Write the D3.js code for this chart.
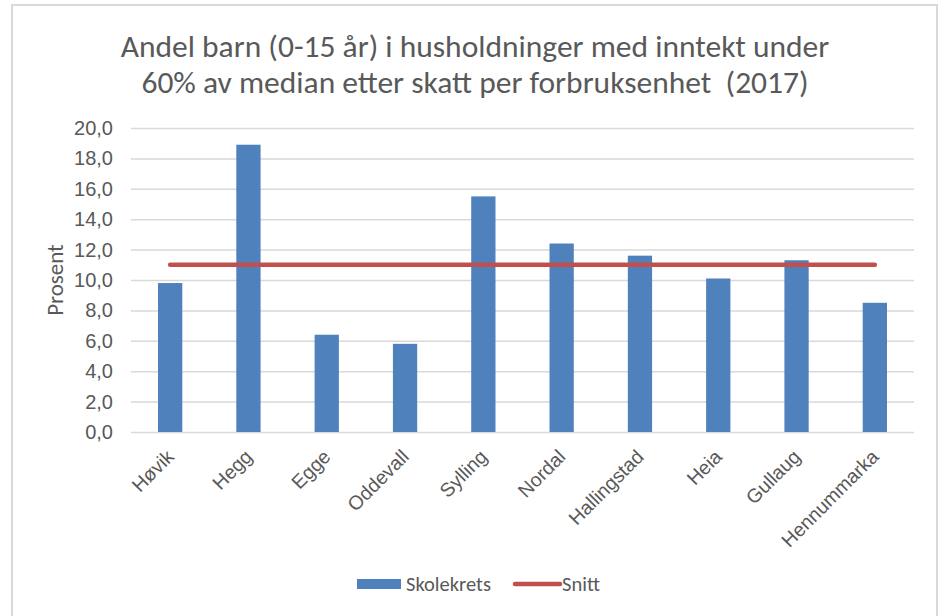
<!DOCTYPE html>
<html>
<head>
<meta charset="utf-8">
<script src="https://cdn.jsdelivr.net/npm/d3@7"></script>
<style>
  body { margin: 0; background: #fff; }
  svg { display: block; font-family: Carlito, "Open Sans", "Liberation Sans", sans-serif; }
</style>
</head>
<body>
<svg id="chart" width="938" height="616"></svg>
<script>
// data
const categories = ["Høvik", "Hegg", "Egge", "Oddevall", "Sylling", "Nordal", "Hallingstad", "Heia", "Gullaug", "Hennummarka"];
const skolekrets = [9.8, 18.9, 6.4, 5.8, 15.5, 12.4, 11.6, 10.1, 11.3, 8.5];
const snitt = [11.0, 11.0, 11.0, 11.0, 11.0, 11.0, 11.0, 11.0, 11.0, 11.0];
const yTicks = [0, 2, 4, 6, 8, 10, 12, 14, 16, 18, 20];
const titleLines = ["Andel barn (0-15 år) i husholdninger med inntekt under", "60% av median etter skatt per forbruksenhet  (2017)"];

const blue = "#4F81BD", red = "#C0504D", textCol = "#595959", gridCol = "#D9D9D9";

const svg = d3.select("#chart");
const margin = { left: 131, right: 24, top: 128, bottom: 184 };
const width = 938 - margin.left - margin.right;
const height = 616 - margin.top - margin.bottom;

// chart frame
svg.append("rect")
  .attr("x", 12).attr("y", 5)
  .attr("width", 925).attr("height", 620)
  .attr("fill", "#fff")
  .attr("stroke", gridCol)
  .attr("stroke-width", 2);

svg.selectAll("text.title")
  .data(titleLines)
  .enter()
  .append("text")
  .attr("class", "title")
  .attr("x", 475)
  .attr("y", (d, i) => 57 + i * 36)
  .attr("text-anchor", "middle")
  .attr("font-size", "31.5px")
  .attr("fill", textCol)
  .style("white-space", "pre")
  .text(d => d);

const g = svg.append("g").attr("transform", `translate(${margin.left},${margin.top})`);

const x = d3.scaleBand().domain(categories).range([0, width]).paddingInner(0.69).paddingOuter(0.345);
const y = d3.scaleLinear().domain([0, 20]).range([height, 0]);

// gridlines + y axis
const yAxis = g.append("g")
  .call(d3.axisLeft(y).tickValues(yTicks).tickSize(-width).tickPadding(18)
    .tickFormat(d => d3.format(".1f")(d).replace(".", ",")));
yAxis.select(".domain").remove();
yAxis.selectAll("line").attr("stroke", gridCol).attr("stroke-width", 1.5);
yAxis.selectAll("text").attr("fill", textCol).attr("font-size", "20px").attr("font-family", null);

svg.append("text")
  .attr("transform", "translate(63,280) rotate(-90)")
  .attr("text-anchor", "middle")
  .attr("font-size", "23px")
  .attr("fill", textCol)
  .text("Prosent");

// bars
g.selectAll("rect.bar")
  .data(skolekrets)
  .enter()
  .append("rect")
  .attr("class", "bar")
  .attr("x", (d, i) => x(categories[i]))
  .attr("y", d => y(d))
  .attr("width", x.bandwidth())
  .attr("height", d => y(0) - y(d))
  .attr("fill", blue);

// snitt line
const line = d3.line()
  .x((d, i) => x(categories[i]) + x.bandwidth() / 2)
  .y(d => y(d));
g.append("path")
  .datum(snitt)
  .attr("d", line)
  .attr("fill", "none")
  .attr("stroke", red)
  .attr("stroke-width", 4.5)
  .attr("stroke-linecap", "round");

// x labels
const xAxis = g.append("g")
  .attr("transform", `translate(0,${height})`)
  .call(d3.axisBottom(x).tickSize(0).tickPadding(0));
xAxis.select(".domain").remove();
xAxis.selectAll("text")
  .attr("font-family", null)
  .attr("font-size", "19.5px")
  .attr("fill", textCol)
  .attr("text-anchor", "end")
  .attr("dy", 0)
  .attr("transform", "translate(5,26) rotate(-45)");

// legend
const legend = svg.append("g").attr("transform", "translate(357,584)");
legend.append("rect")
  .attr("x", 0).attr("y", -5)
  .attr("width", 44).attr("height", 10)
  .attr("fill", blue);
legend.append("text")
  .attr("x", 49).attr("y", 7)
  .attr("font-size", "20.5px").attr("fill", textCol)
  .text("Skolekrets");
legend.append("line")
  .attr("x1", 158).attr("x2", 203)
  .attr("y1", 0).attr("y2", 0)
  .attr("stroke", red).attr("stroke-width", 4.5)
  .attr("stroke-linecap", "round");
legend.append("text")
  .attr("x", 205).attr("y", 7)
  .attr("font-size", "20.5px").attr("fill", textCol)
  .text("Snitt");
</script>
</body>
</html>
